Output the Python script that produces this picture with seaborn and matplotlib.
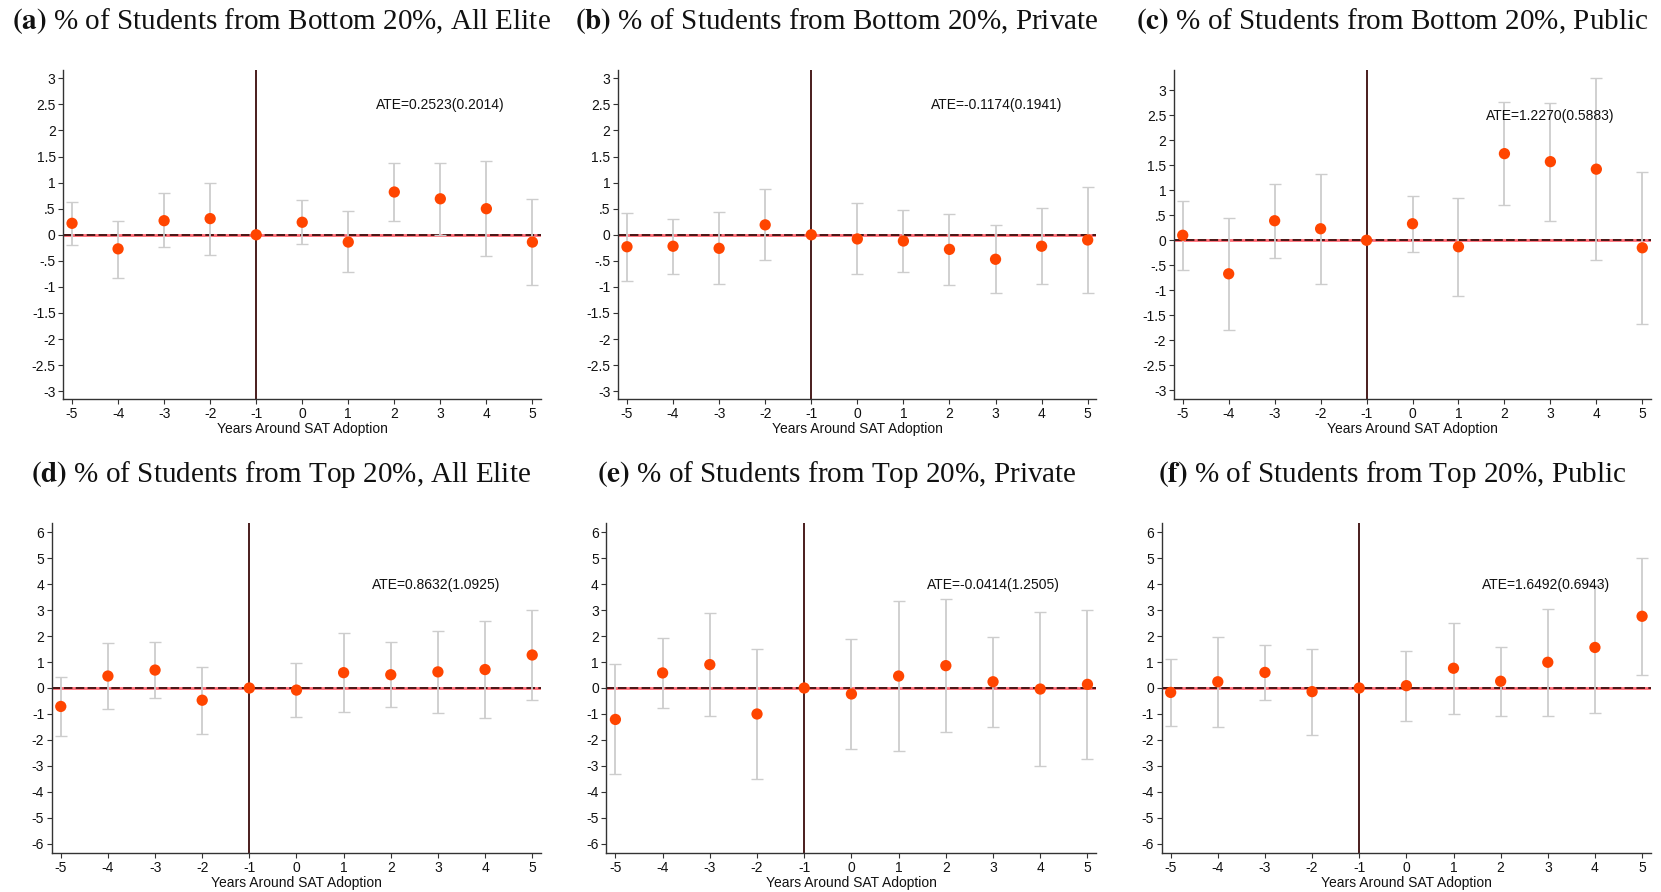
import numpy as np
import matplotlib
matplotlib.use('Agg')
import matplotlib.pyplot as plt
import seaborn as sns

# event-time axis
years = [-5, -4, -3, -2, -1, 0, 1, 2, 3, 4, 5]
nan = np.nan

# (a) bottom 20%, all elite
bot_all_coef = [0.22, -0.27, 0.27, 0.31, 0.0, 0.24, -0.14, 0.82, 0.69, 0.50, -0.14]
bot_all_hi = [0.63, 0.27, 0.80, 0.99, nan, 0.66, 0.45, 1.38, 1.38, 1.42, 0.68]
bot_all_lo = [-0.19, -0.82, -0.24, -0.38, nan, -0.18, -0.72, 0.26, 0.00, -0.41, -0.97]

# (b) bottom 20%, private
bot_priv_coef = [-0.23, -0.22, -0.26, 0.19, 0.0, -0.08, -0.12, -0.28, -0.47, -0.22, -0.10]
bot_priv_hi = [0.41, 0.31, 0.43, 0.87, nan, 0.60, 0.47, 0.39, 0.18, 0.51, 0.91]
bot_priv_lo = [-0.88, -0.75, -0.94, -0.49, nan, -0.75, -0.71, -0.96, -1.12, -0.94, -1.11]

# (c) bottom 20%, public
bot_pub_coef = [0.10, -0.67, 0.39, 0.23, 0.0, 0.33, -0.13, 1.73, 1.57, 1.42, -0.15]
bot_pub_hi = [0.78, 0.45, 1.13, 1.33, nan, 0.89, 0.84, 2.76, 2.74, 3.24, 1.37]
bot_pub_lo = [-0.59, -1.79, -0.35, -0.87, nan, -0.23, -1.11, 0.71, 0.39, -0.39, -1.67]

# (d) top 20%, all elite
top_all_coef = [-0.71, 0.46, 0.69, -0.47, 0.0, -0.08, 0.59, 0.51, 0.62, 0.71, 1.27]
top_all_hi = [0.44, 1.73, 1.77, 0.81, nan, 0.96, 2.12, 1.76, 2.19, 2.58, 2.99]
top_all_lo = [-1.86, -0.82, -0.38, -1.76, nan, -1.12, -0.91, -0.73, -0.97, -1.17, -0.45]

# (e) top 20%, private
top_priv_coef = [-1.21, 0.58, 0.90, -1.00, 0.0, -0.23, 0.46, 0.86, 0.24, -0.04, 0.14]
top_priv_hi = [0.94, 1.92, 2.88, 1.49, nan, 1.90, 3.35, 3.42, 1.97, 2.92, 2.99]
top_priv_lo = [-3.32, -0.78, -1.09, -3.50, nan, -2.36, -2.44, -1.69, -1.50, -2.99, -2.72]

# (f) top 20%, public
top_pub_coef = [-0.17, 0.24, 0.60, -0.14, 0.0, 0.09, 0.76, 0.26, 0.99, 1.56, 2.76]
top_pub_hi = [1.12, 1.97, 1.65, 1.50, nan, 1.44, 2.51, 1.58, 3.04, 3.95, 5.01]
top_pub_lo = [-1.45, -1.49, -0.45, -1.79, nan, -1.26, -1.00, -1.08, -1.08, -0.97, 0.50]

titles = [
    "% of Students from Bottom 20%, All Elite",
    "% of Students from Bottom 20%, Private",
    "% of Students from Bottom 20%, Public",
    "% of Students from Top 20%, All Elite",
    "% of Students from Top 20%, Private",
    "% of Students from Top 20%, Public",
]
letters = ["a", "b", "c", "d", "e", "f"]
ate_labels = [
    "ATE=0.2523(0.2014)", "ATE=-0.1174(0.1941)", "ATE=1.2270(0.5883)",
    "ATE=0.8632(1.0925)", "ATE=-0.0414(1.2505)", "ATE=1.6492(0.6943)",
]

bottom_ticks = [3, 2.5, 2, 1.5, 1, 0.5, 0, -0.5, -1, -1.5, -2, -2.5, -3]
bottom_ticklabels = ["3", "2.5", "2", "1.5", "1", ".5", "0", "-.5", "-1", "-1.5", "-2", "-2.5", "-3"]
top_ticks = [6, 5, 4, 3, 2, 1, 0, -1, -2, -3, -4, -5, -6]

series = [
    (bot_all_coef, bot_all_lo, bot_all_hi),
    (bot_priv_coef, bot_priv_lo, bot_priv_hi),
    (bot_pub_coef, bot_pub_lo, bot_pub_hi),
    (top_all_coef, top_all_lo, top_all_hi),
    (top_priv_coef, top_priv_lo, top_priv_hi),
    (top_pub_coef, top_pub_lo, top_pub_hi),
]

sns.set_style("ticks")
plt.rcParams['font.family'] = ['Liberation Sans', 'DejaVu Sans']
plt.rcParams['mathtext.fontset'] = 'stix'

fig = plt.figure(figsize=(16.61, 8.92), dpi=100)

# axes boxes in figure fractions
boxes = [
    (0.0381, 0.5527, 0.2877, 0.3688),
    (0.3722, 0.5527, 0.2879, 0.3688),
    (0.7068, 0.5527, 0.2872, 0.3688),
    (0.0312, 0.0437, 0.2946, 0.3700),
    (0.3651, 0.0437, 0.2950, 0.3700),
    (0.6994, 0.0437, 0.2946, 0.3700),
]
ylims = [(-3.15, 3.16), (-3.15, 3.16), (-3.17, 3.40),
         (-6.35, 6.35), (-6.35, 6.35), (-6.35, 6.35)]
ate_y = [2.48, 2.48, 2.49, 3.97, 3.97, 3.97]
title_x = [0.1693, 0.504, 0.838]
title_y = [0.9765, 0.4685]

for i, (coef, lo, hi) in enumerate(series):
    ax = fig.add_axes(boxes[i])
    coef = np.array(coef)
    lo = np.array(lo)
    hi = np.array(hi)
    yrs = np.array(years)
    ok = ~np.isnan(lo)

    # zero line: salmon under dark dashes
    ax.axhline(0, color='#ff6b75', lw=2.0, zorder=1)
    ax.axhline(0, color='#4a1616', lw=1.4, ls=(0, (4.4, 1.7)), zorder=2)
    ax.axvline(-1, color='#3a0c0c', lw=1.3, zorder=2)

    ax.errorbar(yrs[ok], coef[ok], yerr=[coef[ok] - lo[ok], hi[ok] - coef[ok]],
                fmt='none', ecolor='#cdcdcd', elinewidth=1.3, capsize=4,
                capthick=1.0, zorder=3)
    sns.scatterplot(x=yrs, y=coef, ax=ax, color='#ff4500', s=66,
                    edgecolor='none', zorder=4, legend=False)

    ax.set_xlim(-5.19, 5.19)
    ax.set_ylim(*ylims[i])
    ax.set_xticks(years)
    ax.set_xticklabels([str(y) for y in years])
    if i < 3:
        ax.set_yticks(bottom_ticks)
        ax.set_yticklabels(bottom_ticklabels)
    else:
        ax.set_yticks(top_ticks)
        ax.set_yticklabels([str(t) for t in top_ticks])

    ax.tick_params(axis='both', labelsize=10, length=3.5, width=0.8,
                   colors='#333333', pad=2, labelcolor='#111111')
    for side in ['top', 'right']:
        ax.spines[side].set_visible(False)
    for side in ['left', 'bottom']:
        ax.spines[side].set_color('#333333')
        ax.spines[side].set_linewidth(1.0)

    ax.set_xlabel("Years Around SAT Adoption", fontsize=10, labelpad=1, color='#111111')
    ax.set_ylabel("")
    ax.text(1.6, ate_y[i], ate_labels[i], fontsize=10, ha='left', va='center',
            color='#111111', zorder=5)

    fig.text(title_x[i % 3], title_y[i // 3],
             r"$\mathbf{(" + letters[i] + ")}$ " + titles[i],
             ha='center', va='center', fontsize=21,
             family=['Liberation Serif', 'DejaVu Serif'], color='#111111')

fig.savefig('out.png', dpi=100)
